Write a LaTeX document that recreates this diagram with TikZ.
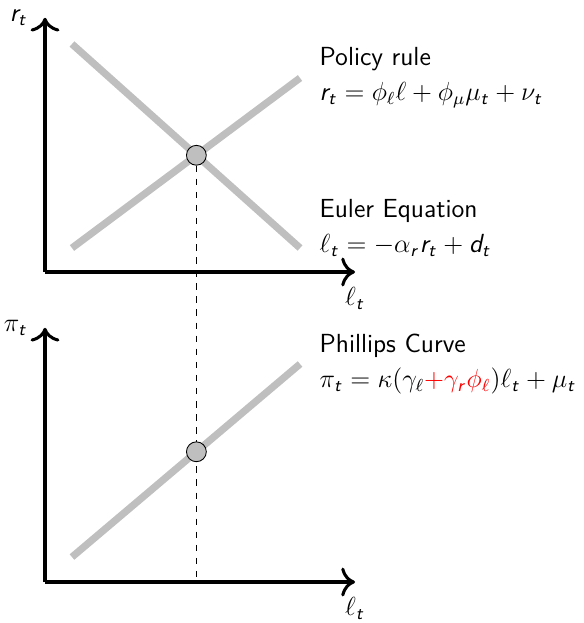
\documentclass[tikz,border=0pt]{standalone}
\usepackage{xcolor}
\usetikzlibrary{arrows.meta}
\renewcommand\familydefault{\sfdefault}
% sans serif latin letters in math, as in a beamer frame
\DeclareSymbolFont{sfletters}{OT1}{cmss}{m}{sl}
\DeclareMathSymbol{r}{\mathalpha}{sfletters}{`r}
\DeclareMathSymbol{t}{\mathalpha}{sfletters}{`t}
\DeclareMathSymbol{d}{\mathalpha}{sfletters}{`d}
\begin{document}
\begin{tikzpicture}[>={To[scale=1.35]},
	axis/.style={->,line width=1.4pt},
	curve/.style={line width=3.3pt,black!25},
	dot/.style={circle,draw,thin,fill=black!25,inner sep=0pt,minimum size=.32cm},
	lab/.style={right=4pt,align=left,font=\large,text=black}]
	\def\xmax{5}\def\ymax{4.1}\def\low{-5}
	\useasboundingbox (-.726,-5.661) rectangle (8.677,4.387);
	% upper panel
	\coordinate (O1) at (0,0);
	\draw[axis](O1)--(\xmax,0)node[below=3pt,font=\large](lx1){$\ell_t$};
	\draw[axis](O1)--(0,\ymax)node[left=4pt,font=\large](ly1){$r_t$};
	\coordinate (e1) at (.435,3.677);\coordinate (e2) at (4.113,.387);
	\coordinate (p1) at (.435,.387);\coordinate (p2) at (4.113,3.129);
	\draw[curve](e1)--(e2)node[lab,yshift=.32cm](euler){Euler Equation\\[2pt] $\ell_t=-\alpha_r r_t+d_t$};
	\draw[curve](p1)--(p2)node[lab](policy){Policy rule\\[2pt] $r_t=\phi_\ell\ell+\phi_\mu\mu_t+\nu_t$};
	% lower panel
	\coordinate (O2) at (0,\low);
	\draw[axis](O2)--(\xmax,\low)node[below=3pt,font=\large](lx2){$\ell_t$};
	\draw[axis](O2)--(0,\low+\ymax)node[left=4pt,font=\large](ly2){$\pi_t$};
	\coordinate (c1) at (.435,\low+.403);\coordinate (c2) at (4.113,\low+3.516);
	\draw[curve](c1)--(c2)node[lab](phillips){Phillips Curve\\[2pt] $\pi_t=\kappa(\gamma_\ell\textcolor{red}{+\gamma_r\phi_\ell})\ell_t+\mu_t$};
	% equilibrium
	\node[dot](eq1) at (intersection of e1--e2 and p1--p2){};
	\coordinate (d1) at (eq1 |- O2);
	\draw[dashed](eq1)--(d1);
	\node[dot](eq2) at (intersection of c1--c2 and eq1--d1){};
\end{tikzpicture}
\end{document}
